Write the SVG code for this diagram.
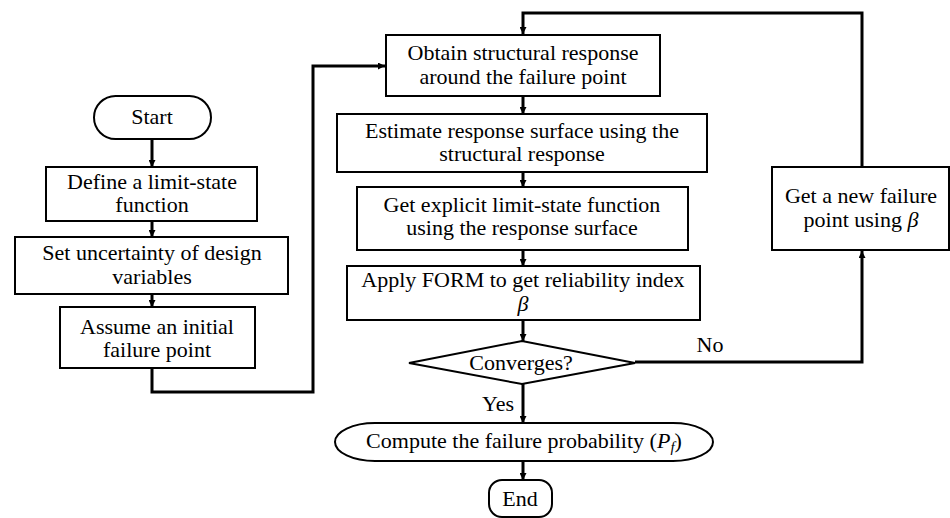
<svg xmlns="http://www.w3.org/2000/svg" width="950" height="518" viewBox="0 0 950 518">
<defs>
<marker id="ah" viewBox="0 0 10 10" refX="10" refY="5" markerWidth="7" markerHeight="7" markerUnits="userSpaceOnUse" orient="auto">
<path d="M0,0 L10,5 L0,10 Z" fill="#000"/>
</marker>
<style>
.box{fill:#fff;stroke:#000;stroke-width:2}
.t{font-family:"Liberation Serif","Times New Roman",serif;font-size:22px;fill:#000;text-anchor:middle}
.i{font-style:italic}
.c{fill:none;stroke:#000;stroke-width:3}
</style>
</defs>
<rect width="950" height="518" fill="#fff"/>
<g id="connectors">
<line class="c" x1="152" y1="139" x2="152" y2="167" marker-end="url(#ah)"/>
<line class="c" x1="152" y1="221" x2="152" y2="237" marker-end="url(#ah)"/>
<line class="c" x1="152" y1="294" x2="152" y2="307" marker-end="url(#ah)"/>
<polyline class="c" points="152,368 152,392 313,392 313,66 385,66" marker-end="url(#ah)"/>
<line class="c" x1="523" y1="97" x2="523" y2="114" marker-end="url(#ah)"/>
<line class="c" x1="523" y1="172" x2="523" y2="187" marker-end="url(#ah)"/>
<line class="c" x1="523" y1="250" x2="523" y2="266" marker-end="url(#ah)"/>
<line class="c" x1="523" y1="320" x2="523" y2="341" marker-end="url(#ah)"/>
<line class="c" x1="523" y1="384" x2="523" y2="423" marker-end="url(#ah)"/>
<line class="c" x1="523" y1="461" x2="523" y2="480" marker-end="url(#ah)"/>
<polyline class="c" points="635,362 862,362 862,251" marker-end="url(#ah)"/>
<polyline class="c" points="862,167 862,13 523,13 523,34" marker-end="url(#ah)"/>
<text class="t" x="710" y="352">No</text>
<text class="t" x="498" y="411">Yes</text>
</g>
<g id="start">
<rect class="box" x="94" y="96" width="117" height="43" rx="21.5"/>
<text class="t" x="152" y="124">Start</text>
</g>
<g id="define">
<rect class="box" x="46" y="167" width="211" height="54"/>
<text class="t" x="152" y="189">Define a limit-state</text>
<text class="t" x="152" y="212">function</text>
</g>
<g id="uncertainty">
<rect class="box" x="15" y="237" width="273" height="57"/>
<text class="t" x="152" y="260">Set uncertainty of design</text>
<text class="t" x="152" y="284">variables</text>
</g>
<g id="assume">
<rect class="box" x="60" y="307" width="195" height="61"/>
<text class="t" x="157" y="334">Assume an initial</text>
<text class="t" x="157" y="357">failure point</text>
</g>
<g id="obtain">
<rect class="box" x="386" y="35" width="274" height="61"/>
<text class="t" x="523" y="60">Obtain structural response</text>
<text class="t" x="523" y="84">around the failure point</text>
</g>
<g id="estimate">
<rect class="box" x="337" y="114" width="370" height="58"/>
<text class="t" x="522" y="138">Estimate response surface using the</text>
<text class="t" x="522" y="161">structural response</text>
</g>
<g id="explicit">
<rect class="box" x="357" y="187" width="331" height="63"/>
<text class="t" x="522" y="212">Get explicit limit-state function</text>
<text class="t" x="522" y="235">using the response surface</text>
</g>
<g id="form">
<rect class="box" x="347" y="266" width="353" height="54"/>
<text class="t" x="523" y="287">Apply FORM to get reliability index</text>
<text class="t i" x="523" y="311">β</text>
</g>
<g id="converges">
<polygon class="box" points="409,363 522,341 635,363 522,384"/>
<text class="t" x="521" y="370">Converges?</text>
</g>
<g id="compute">
<path class="box" d="M375,423 H673 A40,19 0 0 1 673,461 H375 A40,19 0 0 1 375,423 Z"/>
<text class="t" x="524" y="448">Compute the failure probability (<tspan class="i">P</tspan><tspan class="i" font-size="15" dy="4">f</tspan><tspan dy="-4">)</tspan></text>
</g>
<g id="end">
<rect class="box" x="489" y="480" width="63" height="37" rx="13"/>
<text class="t" x="520" y="506">End</text>
</g>
<g id="newpoint">
<rect class="box" x="772" y="167" width="177" height="83"/>
<text class="t" x="861" y="203">Get a new failure</text>
<text class="t" x="861" y="227">point using <tspan class="i">β</tspan></text>
</g>
</svg>
